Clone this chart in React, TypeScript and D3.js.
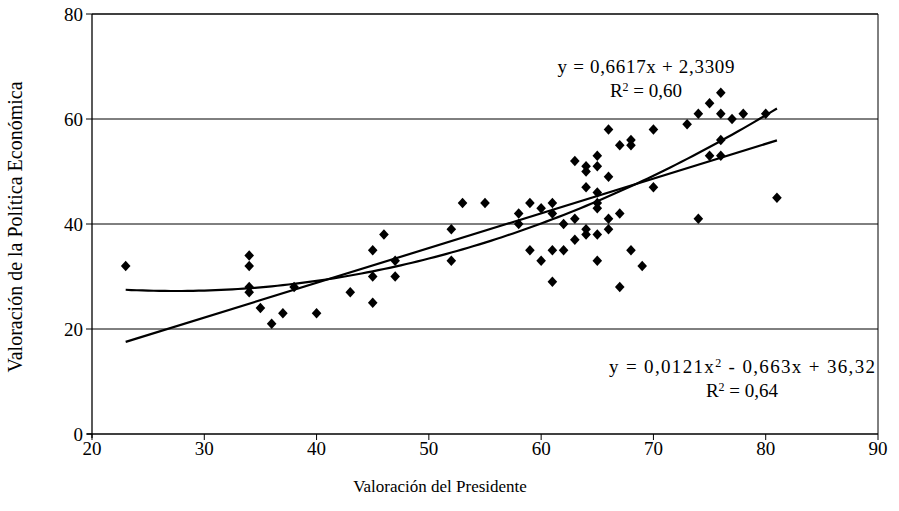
import React from "react";
import * as d3 from "d3";

const presidente = [23,34,34,34,34,35,36,37,38,40,43,45,45,45,46,47,47,52,52,53,55,58,58,59,59,60,60,61,61,61,61,62,62,63,63,63,64,64,64,64,64,65,65,65,65,65,65,65,66,66,66,66,67,67,67,68,68,68,69,70,70,73,74,74,75,75,76,76,76,76,77,78,80,81];
const politica = [32,34,32,28,27,24,21,23,28,23,27,25,30,35,38,30,33,33,39,44,44,42,40,44,35,43,33,44,42,35,29,40,35,52,41,37,51,50,47,39,38,53,51,46,44,43,38,33,58,49,41,39,55,42,28,56,55,35,32,58,47,59,61,41,63,53,65,61,56,53,60,61,61,45];

const xTicks = [20,30,40,50,60,70,80,90];
const yTicks = [0,20,40,60,80];
const linCoef = [0.6617, 2.3309];
const quadCoef = [0.0121, -0.663, 36.32];
const eqLin = "y = 0,6617x + 2,3309";
const r2Lin = "0,60";
const eqQuadA = "y = 0,0121x";
const eqQuadB = " - 0,663x + 36,32";
const r2Quad = "0,64";
const xTitle = "Valoración del Presidente";
const yTitle = "Valoración de la Política Económica";

const W = 899, H = 511;
const L = 92, R = 878, T = 14, B = 434;
const FONT = "'Liberation Serif', 'Times New Roman', serif";

export default function App() {
  const x = d3.scaleLinear().domain([20, 90]).range([L, R]);
  const y = d3.scaleLinear().domain([0, 80]).range([B, T]);
  const xmin = d3.min(presidente) as number;
  const xmax = d3.max(presidente) as number;
  const xs = d3.range(xmin, xmax + 0.001, 0.5);
  const line = d3.line<number[]>().x(d => x(d[0])).y(d => y(d[1]));
  const linPath = line([xmin, xmax].map(v => [v, linCoef[0] * v + linCoef[1]]));
  const quadPath = line(xs.map(v => [v, quadCoef[0] * v * v + quadCoef[1] * v + quadCoef[2]]));
  const diamond = "M0,-5.2L4.8,0L0,5.2L-4.8,0Z";

  return (
    <svg width={W} height={H} style={{ position: "absolute", left: 0, top: 0, background: "#fff" }} fontFamily={FONT}>
      <rect x={0} y={0} width={W} height={H} fill="#fff" />
      {yTicks.filter(t => t > 0).map(t => (
        <line key={"g" + t} x1={L} x2={R} y1={y(t)} y2={y(t)} stroke="#000" strokeWidth={t === 80 ? 1.6 : 1} />
      ))}
      <line x1={R} x2={R} y1={T} y2={B} stroke="#000" strokeWidth={1} />
      <line x1={L} x2={L} y1={T} y2={B + 4} stroke="#000" strokeWidth={1.3} />
      <line x1={L - 5} x2={R} y1={B} y2={B} stroke="#000" strokeWidth={1.6} />
      {yTicks.map(t => (
        <g key={"y" + t}>
          <line x1={L - 6} x2={L} y1={y(t)} y2={y(t)} stroke="#000" strokeWidth={1} />
          <text x={L - 9} y={y(t)} dy="0.35em" textAnchor="end" fontSize={19}>{t}</text>
        </g>
      ))}
      {xTicks.map(t => (
        <g key={"x" + t}>
          <line x1={x(t)} x2={x(t)} y1={B} y2={B + 6} stroke="#000" strokeWidth={1} />
          <text x={x(t)} y={B + 21} textAnchor="middle" fontSize={19}>{t}</text>
        </g>
      ))}
      <path d={quadPath || ""} fill="none" stroke="#000" strokeWidth={2.2} />
      <path d={linPath || ""} fill="none" stroke="#000" strokeWidth={2.2} />
      {presidente.map((p, i) => (
        <path key={"p" + i} d={diamond} transform={`translate(${x(p)},${y(politica[i])})`} fill="#000" />
      ))}
      <text x={646} y={73} textAnchor="middle" fontSize={19} textLength={177} lengthAdjust="spacing">{eqLin}</text>
      <text x={646} y={97} textAnchor="middle" fontSize={19}>R<tspan dy={-6} fontSize={12}>2</tspan><tspan dy={6}> = {r2Lin}</tspan></text>
      <text x={742} y={373} textAnchor="middle" fontSize={19} textLength={266} lengthAdjust="spacing">{eqQuadA}<tspan dy={-6} fontSize={12}>2</tspan><tspan dy={6}>{eqQuadB}</tspan></text>
      <text x={742} y={397} textAnchor="middle" fontSize={19}>R<tspan dy={-6} fontSize={12}>2</tspan><tspan dy={6}> = {r2Quad}</tspan></text>
      <text x={440} y={492} textAnchor="middle" fontSize={17}>{xTitle}</text>
      <text transform="translate(22,227) rotate(-90)" textAnchor="middle" fontSize={20}>{yTitle}</text>
    </svg>
  );
}
